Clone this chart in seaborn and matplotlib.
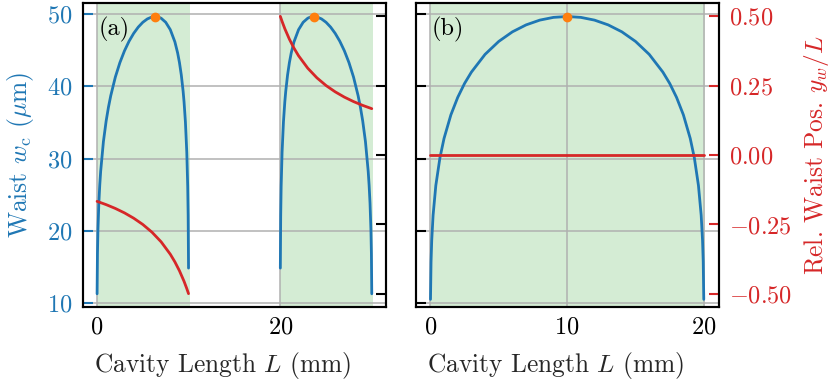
import matplotlib
matplotlib.use("Agg")
import matplotlib.pyplot as plt
import seaborn as sns

# --- data -------------------------------------------------------------
# (a) asymmetric cavity, two stability regions
L_a1 = [0.01, 0.05, 0.1, 0.2, 0.3, 0.4, 0.7, 1.0, 1.25, 1.5, 2.0, 2.5, 3.0,
        3.5, 4.0, 4.5, 5.0, 5.5, 6.0, 6.34, 6.7, 7.0, 7.5, 8.0, 8.5, 8.8,
        9.0, 9.2, 9.4, 9.5, 9.65, 9.8, 9.9, 9.95, 9.99]
w_a1 = [11.28, 16.87, 20.04, 23.81, 26.31, 28.24, 32.35, 35.22, 37.11, 38.70,
        41.28, 43.29, 44.92, 46.25, 47.33, 48.20, 48.87, 49.34, 49.61, 49.67,
        49.60, 49.43, 48.87, 47.85, 46.16, 44.63, 43.29, 41.58, 39.31, 37.87,
        35.07, 30.87, 26.18, 22.11, 14.84]
L_a2 = [20.01, 20.05, 20.1, 20.2, 20.35, 20.5, 20.6, 20.8, 21.0, 21.2, 21.5,
        22.0, 22.5, 23.0, 23.3, 23.66, 24.0, 24.5, 25.0, 25.5, 26.0, 26.5,
        27.0, 27.5, 28.0, 28.5, 28.75, 29.0, 29.3, 29.6, 29.7, 29.8, 29.9,
        29.95, 29.99]
w_a2 = [14.84, 22.11, 26.18, 30.87, 35.07, 37.87, 39.31, 41.58, 43.29, 44.63,
        46.16, 47.85, 48.87, 49.43, 49.60, 49.67, 49.61, 49.34, 48.87, 48.20,
        47.33, 46.25, 44.92, 43.29, 41.28, 38.70, 37.11, 35.22, 32.35, 28.24,
        26.31, 23.81, 20.04, 16.87, 11.28]
Lr_a1 = [0.01, 1.0, 2.0, 3.0, 4.0, 5.0, 6.0, 7.0, 8.0, 8.5, 9.0, 9.5, 9.8, 9.99]
yr_a1 = [-0.1668, -0.1786, -0.1923, -0.2083, -0.2273, -0.2500, -0.2778,
         -0.3125, -0.3571, -0.3846, -0.4167, -0.4545, -0.4808, -0.4990]
Lr_a2 = [20.01, 20.2, 20.5, 21.0, 21.5, 22.0, 23.0, 24.0, 25.0, 26.0, 27.0,
         28.0, 29.0, 29.99]
yr_a2 = [0.4990, 0.4808, 0.4545, 0.4167, 0.3846, 0.3571, 0.3125, 0.2778,
         0.2500, 0.2273, 0.2083, 0.1923, 0.1786, 0.1668]
peak_a_L = [6.34, 23.66]
peak_a_w = [49.67, 49.67]

# (b) symmetric cavity
L_b = [0.01, 0.05, 0.1, 0.2, 0.4, 0.7, 1.0, 1.5, 2.0, 2.5, 3.0, 4.0, 5.0,
       6.0, 7.0, 8.0, 9.0, 10.0, 11.0, 12.0, 13.0, 14.0, 15.0, 16.0, 17.0,
       17.5, 18.0, 18.5, 19.0, 19.3, 19.6, 19.8, 19.9, 19.95, 19.99]
w_b = [10.51, 15.70, 18.66, 22.16, 26.28, 30.11, 32.79, 36.05, 38.47, 40.40,
       41.97, 44.43, 46.22, 47.55, 48.51, 49.17, 49.55, 49.67, 49.55, 49.17,
       48.51, 47.55, 46.22, 44.43, 41.97, 40.40, 38.47, 36.05, 32.79, 30.11,
       26.28, 22.16, 18.66, 15.70, 10.51]
Lr_b = [0.01, 19.99]
yr_b = [0.0, 0.0]
peak_b_L = [10.0]
peak_b_w = [49.67]

stable_a = [(0.0, 10.15), (20.0, 30.15)]
stable_b = [(0.0, 20.1)]

# --- style ------------------------------------------------------------
FS = 17.5
FS_LABEL = 18.3
sns.set_theme(style="white")
plt.rcParams.update({
    "font.family": ["cmr10"],
    "mathtext.fontset": "cm",
    "axes.formatter.use_mathtext": True,
    "font.size": FS,
    "axes.labelsize": FS_LABEL,
    "xtick.labelsize": FS,
    "ytick.labelsize": FS,
    "axes.linewidth": 1.5,
    "axes.edgecolor": "black",
    "grid.color": "#b0b0b0",
    "grid.linewidth": 1.1,
})

BLUE = "#1f77b4"
RED = "#d62728"
ORANGE = "#ff7f0e"
GREEN = "#2ca02c"

fig = plt.figure(figsize=(8.36, 3.87), dpi=100)
ax_a = fig.add_axes([0.0997, 0.2067, 0.3621, 0.7848])
ax_b = fig.add_axes([0.4976, 0.2067, 0.3624, 0.7848])

W_LIM = (9.45, 51.5)
R_LIM = (-0.547, 0.546)
W_TICKS = [10, 20, 30, 40, 50]
R_TICKS = [-0.5, -0.25, 0.0, 0.25, 0.5]

tick_kw = dict(direction="in", length=7, width=1.5)

# --- panel (a) --------------------------------------------------------
for lo, hi in stable_a:
    ax_a.axvspan(lo, hi, color=GREEN, alpha=0.2, lw=0, zorder=0.5)
sns.lineplot(x=L_a1, y=w_a1, ax=ax_a, color=BLUE, lw=2, sort=False, estimator=None)
sns.lineplot(x=L_a2, y=w_a2, ax=ax_a, color=BLUE, lw=2, sort=False, estimator=None)
ax_a.plot(peak_a_L, peak_a_w, "o", color=ORANGE, ms=6, zorder=5)
ax_a.set_xlim(-1.49, 31.55)
ax_a.set_ylim(*W_LIM)
ax_a.set_xticks([0, 20])
ax_a.set_yticks(W_TICKS)
ax_a.grid(True)
ax_a.tick_params(axis="x", colors="black", pad=7, **tick_kw)
ax_a.tick_params(axis="y", colors=BLUE, pad=8, **tick_kw)
ax_a.set_xlabel(r"Cavity Length $L$ (mm)")
ax_a.xaxis.set_label_coords(0.46, -0.14)
ax_a.set_ylabel(r"Waist $w_\mathrm{c}$ ($\mu$m)", color=BLUE, labelpad=8)
ax_a.text(0.05, 0.955, "(a)", transform=ax_a.transAxes, ha="left", va="top",
          color="black", fontsize=FS)

ax_a2 = ax_a.twinx()
sns.lineplot(x=Lr_a1, y=yr_a1, ax=ax_a2, color=RED, lw=2, sort=False, estimator=None)
sns.lineplot(x=Lr_a2, y=yr_a2, ax=ax_a2, color=RED, lw=2, sort=False, estimator=None)
ax_a2.set_ylim(*R_LIM)
ax_a2.set_yticks(R_TICKS)
ax_a2.set_yticklabels([])
ax_a2.tick_params(axis="y", colors="black", **tick_kw)
ax_a2.set_ylabel("")

# --- panel (b) --------------------------------------------------------
for lo, hi in stable_b:
    ax_b.axvspan(lo, hi, color=GREEN, alpha=0.2, lw=0, zorder=0.5)
sns.lineplot(x=L_b, y=w_b, ax=ax_b, color=BLUE, lw=2, sort=False, estimator=None)
ax_b.plot(peak_b_L, peak_b_w, "o", color=ORANGE, ms=6, zorder=5)
ax_b.set_xlim(-1.05, 21.1)
ax_b.set_ylim(*W_LIM)
ax_b.set_xticks([0, 10, 20])
ax_b.set_yticks(W_TICKS)
ax_b.set_yticklabels([])
ax_b.grid(True)
ax_b.tick_params(axis="x", colors="black", pad=7, **tick_kw)
ax_b.tick_params(axis="y", colors="black", **tick_kw)
ax_b.set_xlabel(r"Cavity Length $L$ (mm)")
ax_b.xaxis.set_label_coords(0.46, -0.14)
ax_b.set_ylabel("")
ax_b.text(0.05, 0.955, "(b)", transform=ax_b.transAxes, ha="left", va="top",
          color="black", fontsize=FS)

ax_b2 = ax_b.twinx()
sns.lineplot(x=Lr_b, y=yr_b, ax=ax_b2, color=RED, lw=2, sort=False, estimator=None)
ax_b2.set_ylim(*R_LIM)
ax_b2.set_yticks(R_TICKS)
ax_b2.tick_params(axis="y", colors=RED, pad=7, **tick_kw)
ax_b2.set_ylabel(r"Rel. Waist Pos. $y_w/L$", color=RED, labelpad=7)

for ax in (ax_a, ax_b, ax_a2, ax_b2):
    for sp in ax.spines.values():
        sp.set_color("black")
        sp.set_linewidth(1.5)

fig.savefig("out.png", dpi=100)
